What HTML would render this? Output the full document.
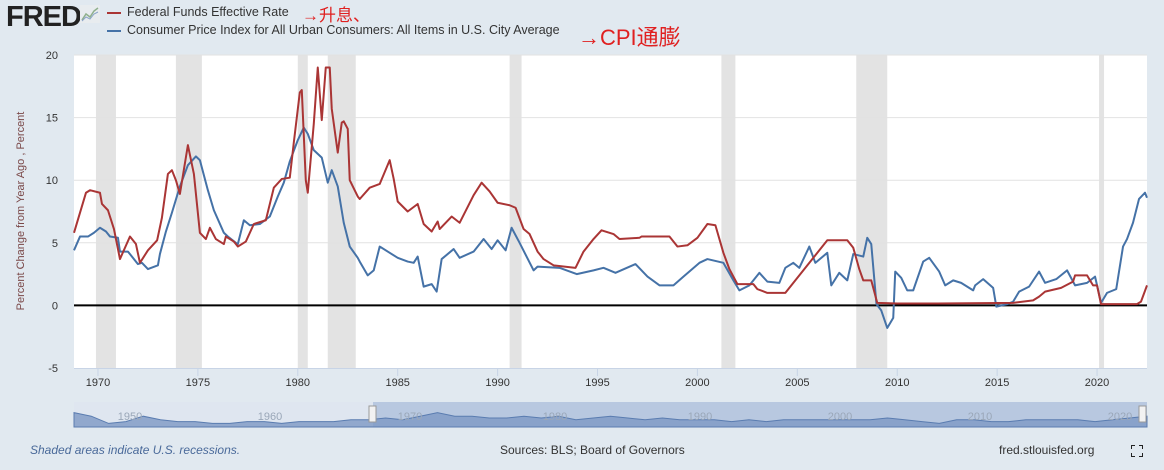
<!DOCTYPE html>
<html><head><meta charset="utf-8"><style>
body{margin:0;width:1164px;height:470px;background:#e1e9f0;font-family:"Liberation Sans","Noto Sans CJK SC",sans-serif;overflow:hidden;position:relative}
.t{position:absolute;white-space:nowrap}
</style></head><body>
<div class="t" style="left:6px;top:1px;font-size:29px;font-weight:bold;color:#222;letter-spacing:-1px">FRED</div>
<svg class="t" style="left:80px;top:5px" width="20" height="18"><rect width="20" height="18" fill="#e8ecef"/><polyline points="2,15 6,9 10,12 14,6 18,3" fill="none" stroke="#8fb08c" stroke-width="1.5"/><polyline points="2,16 6,12 10,14 14,9 18,7" fill="none" stroke="#8aa4c8" stroke-width="1"/></svg>
<div class="t" style="left:107px;top:5px;font-size:12.5px;color:#333"><span style="display:inline-block;width:14px;height:2px;background:#aa3535;vertical-align:middle;margin-right:6px"></span>Federal Funds Effective Rate</div>
<div class="t" style="left:107px;top:23px;font-size:12.5px;color:#333"><span style="display:inline-block;width:14px;height:2px;background:#4572a7;vertical-align:middle;margin-right:6px"></span>Consumer Price Index for All Urban Consumers: All Items in U.S. City Average</div>
<div class="t" style="left:302px;top:1px;font-size:17px;color:#e02020">→升息、</div>
<div class="t" style="left:578px;top:20px;font-size:22px;color:#e02020">→CPI通膨</div>
<div class="t" style="left:21px;top:211px;font-size:11px;color:#7a4848;transform:translate(-50%,-50%) rotate(-90deg)">Percent Change from Year Ago , Percent</div>
<svg id="chart" class="t" style="left:0;top:0" width="1164" height="470"></svg>
<div class="t" style="left:30px;top:443px;font-size:12px;color:#4a6a9a;font-style:italic">Shaded areas indicate U.S. recessions.</div>
<div class="t" style="left:500px;top:443px;font-size:12px;color:#333">Sources: BLS; Board of Governors</div>
<div class="t" style="left:999px;top:443px;font-size:12px;color:#333">fred.stlouisfed.org</div>
<svg class="t" style="left:1131px;top:445px" width="12" height="12"><path d="M0 4V0H4M8 0H12V4M12 8V12H8M4 12H0V8" fill="none" stroke="#222" stroke-width="2"/></svg>
<script>
const yTicks=[-5,0,5,10,15,20];
const xTicks=[1970,1975,1980,1985,1990,1995,2000,2005,2010,2015,2020];
const recStart=[1969.9,1973.9,1980.0,1981.5,1990.6,2001.2,2007.95,2020.1];
const recEnd=[1970.9,1975.2,1980.5,1982.9,1991.2,2001.9,2009.5,2020.35];
const fedDates=[1968.8,1969.4,1969.6,1970.1,1970.2,1970.5,1970.8,1971.1,1971.6,1971.9,1972.1,1972.5,1972.96,1973.2,1973.5,1973.7,1973.9,1974.1,1974.5,1974.8,1975.1,1975.4,1975.6,1975.9,1976.3,1976.4,1976.8,1977.0,1977.4,1977.8,1978.4,1978.8,1979.2,1979.6,1979.8,1980.1,1980.2,1980.4,1980.5,1980.8,1981.0,1981.2,1981.4,1981.6,1981.7,1982.0,1982.2,1982.3,1982.5,1982.6,1983.0,1983.1,1983.6,1984.1,1984.6,1984.8,1985.0,1985.5,1986.0,1986.3,1986.7,1987.0,1987.1,1987.7,1988.1,1988.8,1989.2,1989.6,1990.0,1990.6,1990.9,1991.3,1991.6,1992.0,1992.3,1992.8,1993.9,1994.3,1994.8,1995.2,1995.8,1996.1,1997.1,1997.2,1998.6,1999.0,1999.5,2000.0,2000.5,2000.9,2001.3,2001.6,2002.0,2002.8,2003.0,2003.5,2004.4,2006.5,2007.5,2007.8,2008.1,2008.3,2008.7,2009.0,2010.0,2012.0,2015.8,2016.8,2017.1,2017.4,2018.2,2018.8,2018.9,2019.5,2019.8,2020.0,2020.2,2021.0,2022.0,2022.2,2022.5];
const fedValues=[5.8,9.0,9.2,9.0,8.1,7.6,6.1,3.7,5.5,4.9,3.4,4.4,5.2,7.0,10.5,10.8,10.0,8.9,12.8,10.5,5.8,5.3,6.2,5.3,4.9,5.5,5.1,4.7,5.1,6.5,6.8,9.4,10.1,10.2,13.0,17.0,17.2,10.0,9.0,14.5,19.0,14.8,19.0,19.0,15.7,12.2,14.6,14.7,14.1,10.0,8.7,8.5,9.4,9.7,11.6,10.1,8.3,7.5,8.1,6.5,5.9,6.7,6.1,7.1,6.6,8.8,9.8,9.1,8.2,8.0,7.8,6.1,5.7,4.3,3.7,3.2,3.0,4.3,5.3,6.0,5.7,5.3,5.4,5.5,5.5,4.7,4.8,5.4,6.5,6.4,4.2,2.9,1.7,1.7,1.3,1.0,1.0,5.2,5.2,4.6,2.9,2.0,2.0,0.2,0.15,0.15,0.2,0.4,0.7,1.1,1.4,1.9,2.4,2.4,1.6,1.6,0.1,0.1,0.1,0.3,1.6];
const cpiDates=[1968.8,1969.1,1969.5,1969.8,1970.1,1970.4,1970.6,1971.0,1971.1,1971.5,1972.0,1972.2,1972.5,1973.0,1973.1,1973.4,1973.7,1974.1,1974.5,1974.9,1975.1,1975.5,1975.8,1976.3,1976.5,1976.9,1977.0,1977.3,1977.6,1978.1,1978.6,1979.0,1979.3,1979.6,1980.0,1980.3,1980.5,1980.8,1981.2,1981.5,1981.7,1982.0,1982.3,1982.6,1983.0,1983.1,1983.5,1983.8,1984.1,1984.6,1985.0,1985.5,1985.8,1986.0,1986.3,1986.7,1986.95,1987.2,1987.8,1988.1,1988.8,1989.3,1989.7,1990.0,1990.4,1990.7,1991.1,1991.8,1992.0,1993.1,1993.96,1994.8,1995.3,1995.9,1996.9,1997.5,1998.1,1998.8,1999.3,2000.1,2000.5,2001.3,2001.8,2002.1,2002.6,2003.1,2003.5,2004.1,2004.4,2004.8,2005.1,2005.6,2005.9,2006.5,2006.7,2007.1,2007.5,2007.8,2008.3,2008.5,2008.7,2008.96,2009.2,2009.5,2009.8,2009.9,2010.2,2010.5,2010.8,2011.3,2011.6,2012.1,2012.4,2012.8,2013.2,2013.8,2013.9,2014.3,2014.8,2014.96,2015.5,2015.8,2016.1,2016.6,2017.1,2017.4,2017.96,2018.5,2018.9,2019.5,2019.9,2020.2,2020.5,2020.96,2021.3,2021.5,2021.8,2022.1,2022.4,2022.5];
const cpiValues=[4.4,5.5,5.5,5.8,6.2,5.9,5.5,5.4,4.3,4.3,3.3,3.4,2.9,3.2,4.1,5.9,7.4,9.5,11.2,11.9,11.6,9.2,7.6,5.8,5.5,5.0,4.9,6.8,6.4,6.5,7.1,8.7,9.8,11.5,13.2,14.2,13.7,12.4,11.8,9.8,10.8,9.5,6.6,4.7,3.8,3.5,2.4,2.8,4.7,4.2,3.8,3.5,3.4,3.9,1.5,1.7,1.1,3.7,4.5,3.8,4.3,5.3,4.5,5.2,4.4,6.2,5.0,2.8,3.1,3.0,2.5,2.8,3.0,2.6,3.3,2.3,1.6,1.6,2.3,3.4,3.7,3.4,2.0,1.2,1.6,2.6,1.9,1.8,3.0,3.4,3.0,4.7,3.4,4.2,1.6,2.6,2.0,4.1,3.9,5.4,4.9,0.1,-0.4,-1.8,-1.0,2.7,2.2,1.2,1.2,3.5,3.8,2.7,1.6,2.0,1.8,1.2,1.6,2.1,1.4,-0.1,0.1,0.3,1.1,1.5,2.7,1.8,2.1,2.8,1.6,1.8,2.3,0.2,1.0,1.3,4.7,5.3,6.6,8.5,9.0,8.6];
const navValues=[8,6,2,3,6,4,3,3,2,2,3,3,2,3,3,3,4,4,5,4,6,8,6,6,5,5,6,5,6,4,5,6,5,4,5,4,4,4,3,4,3,4,4,4,4,4,4,5,4,3,2,4,4,3,3,4,4,4,4,3,4,5,6];

const L=74,R=1147,T=55,B=368,x0=1968.8,x1=2022.5;
const xs=v=>L+(v-x0)/(x1-x0)*(R-L);
const ys=v=>B-(v+5)/25*(B-T);
const svg=document.getElementById('chart');const NS='http://www.w3.org/2000/svg';
function mk(tag,attrs){const e=document.createElementNS(NS,tag);for(const k in attrs)e.setAttribute(k,attrs[k]);svg.appendChild(e);return e;}
const bg=mk('rect',{x:L,y:T,width:R-L,height:B-T,fill:'#fff'});


recStart.forEach((s,i)=>{const r=mk('rect',{x:xs(s),y:T,width:xs(recEnd[i])-xs(s),height:B-T,fill:'#e3e3e3'});

});
yTicks.forEach(v=>{if(v!==0&&v!==-5){const g=mk('line',{x1:L,x2:R,y1:ys(v),y2:ys(v),stroke:'#e2e2e2','stroke-width':1});

}
const t=mk('text',{x:58,y:ys(v)+4,'text-anchor':'end','font-size':11,fill:'#333','font-family':'Liberation Sans'});t.textContent=v;

});
const ax=mk('line',{x1:L,x2:R,y1:B+0.5,y2:B+0.5,stroke:'#c8d4e6'});


xTicks.forEach(v=>{const tk=mk('line',{x1:xs(v),x2:xs(v),y1:B,y2:B+8,stroke:'#c8d4e6'});


const t=mk('text',{x:xs(v),y:B+18,'text-anchor':'middle','font-size':11,fill:'#333','font-family':'Liberation Sans'});t.textContent=v;

});
const z=mk('line',{x1:L,x2:R,y1:ys(0),y2:ys(0),stroke:'#000','stroke-width':2});


function line(d,v,c,n){const p=mk('polyline',{points:d.map((t,i)=>xs(t)+','+ys(v[i])).join(' '),fill:'none',stroke:c,'stroke-width':2,'stroke-linejoin':'round'});

}
line(cpiDates,cpiValues,'#4572a7','cpi-line');
line(fedDates,fedValues,'#aa3535','fedfunds-line');
// navigator
const nT=402,nB=427;
const nb=mk('rect',{x:L,y:nT,width:R-L,height:nB-nT,fill:'#dfe6f0'});


const sel=mk('rect',{x:373,y:nT,width:R-373,height:nB-nT,fill:'#b8c8e0'});


const step=(R-L)/(navValues.length-1);
const pts=navValues.map((v,i)=>(L+i*step)+','+(nB-v*1.8)).join(' ');
const na=mk('polygon',{points:L+','+nB+' '+pts+' '+R+','+nB,fill:'#7d98c4','fill-opacity':0.8,stroke:'#5a7cb0'});


[[1950,130],[1960,270],[1970,410],[1980,555],[1990,700],[2000,840],[2010,980],[2020,1120]].forEach(a=>{const t=mk('text',{x:a[1],y:420,'font-size':11,fill:'#9aa7b8','text-anchor':'middle','font-family':'Liberation Sans'});t.textContent=a[0];

});
[373,1143].forEach(x=>{const h=mk('rect',{x:x-4,y:406,width:7,height:16,fill:'#f2f2f2',stroke:'#999'});

});
</script>
</body></html>
